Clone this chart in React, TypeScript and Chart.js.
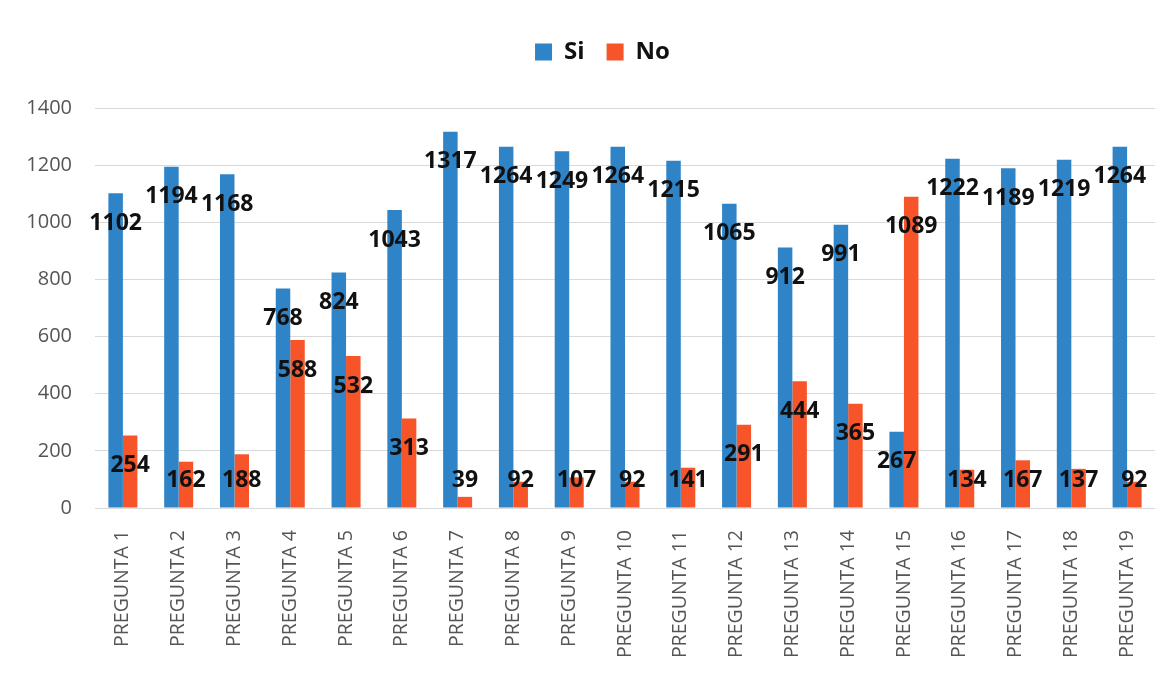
import React, { useEffect, useRef } from "react";
import { Chart, registerables } from "chart.js";

Chart.register(...registerables);

const categories = [
  "PREGUNTA 1", "PREGUNTA 2", "PREGUNTA 3", "PREGUNTA 4", "PREGUNTA 5",
  "PREGUNTA 6", "PREGUNTA 7", "PREGUNTA 8", "PREGUNTA 9", "PREGUNTA 10",
  "PREGUNTA 11", "PREGUNTA 12", "PREGUNTA 13", "PREGUNTA 14", "PREGUNTA 15",
  "PREGUNTA 16", "PREGUNTA 17", "PREGUNTA 18", "PREGUNTA 19",
];
const siValues = [1102, 1194, 1168, 768, 824, 1043, 1317, 1264, 1249, 1264, 1215, 1065, 912, 991, 267, 1222, 1189, 1219, 1264];
const noValues = [254, 162, 188, 588, 532, 313, 39, 92, 107, 92, 141, 291, 444, 365, 1089, 134, 167, 137, 92];
const yTicks = [0, 200, 400, 600, 800, 1000, 1200, 1400];

const FONT = "'Open Sans', 'DejaVu Sans', sans-serif";

const labelPlugin = {
  id: "barLabels",
  afterLayout(chart: any) {
    const lg = chart.legend;
    if (lg) {
      lg.left += 25;
      lg.right += 25;
    }
  },
  afterDatasetsDraw(chart: any) {
    const ctx = chart.ctx;
    const yScale = chart.scales.y;
    const base = yScale.getPixelForValue(0);
    ctx.save();
    ctx.font = `bold 23px ${FONT}`;
    ctx.fillStyle = "#111111";
    ctx.textAlign = "center";
    ctx.textBaseline = "middle";
    chart.data.datasets.forEach((ds: any, di: number) => {
      const meta = chart.getDatasetMeta(di);
      meta.data.forEach((el: any, i: number) => {
        const y = Math.min(el.y + 30, base - 28);
        ctx.fillText(String(ds.data[i]), el.x, y);
      });
    });
    ctx.restore();
  },
};

export default function App() {
  const ref = useRef<HTMLCanvasElement | null>(null);
  useEffect(() => {
    document.body.style.margin = "0";
    const chart = new Chart(ref.current as HTMLCanvasElement, {
      type: "bar",
      data: {
        labels: categories,
        datasets: [
          { label: "Si", data: siValues, backgroundColor: "#2F84C8", categoryPercentage: 0.52, barPercentage: 1 },
          { label: "No", data: noValues, backgroundColor: "#F7542A", categoryPercentage: 0.52, barPercentage: 1 },
        ],
      },
      options: {
        animation: false,
        responsive: false,
        maintainAspectRatio: false,
        layout: { padding: { left: 0, right: 17, top: 18, bottom: 0 } },
        plugins: {
          legend: {
            display: true,
            position: "top",
            weight: 1000,
            labels: {
              boxWidth: 17,
              boxHeight: 17,
              padding: 22,
              color: "#111111",
              font: { family: FONT, size: 24, weight: "bold" },
            },
          },
          title: {
            display: true,
            text: "",
            position: "top",
            weight: 500,
            font: { size: 10, lineHeight: 1 },
            padding: { top: 24, bottom: 0 },
          },
          tooltip: { enabled: false },
        },
        scales: {
          x: {
            grid: { display: false },
            border: { display: false },
            afterFit: (axis: any) => { axis.height = 167; },
            ticks: {
              minRotation: 90,
              maxRotation: 90,
              padding: 14,
              color: "#555555",
              font: { family: FONT, size: 19.5 },
            },
          },
          y: {
            min: 0,
            max: 1400,
            afterFit: (axis: any) => { axis.width = 95; },
            afterBuildTicks: (axis: any) => { axis.ticks = yTicks.map((v) => ({ value: v })); },
            grid: { color: "#D9D9D9", lineWidth: 1, drawTicks: false },
            border: { display: false },
            ticks: {
              padding: 23,
              color: "#555555",
              font: { family: FONT, size: 20 },
              callback: (v: any) => String(v),
            },
          },
        },
      },
      plugins: [labelPlugin],
    });
    return () => chart.destroy();
  }, []);
  return (
    <div style={{ position: "absolute", left: 0, top: 0, width: 1172, height: 675, background: "#fff" }}>
      <canvas ref={ref} width={1172} height={675} style={{ width: 1172, height: 675 }} />
    </div>
  );
}
